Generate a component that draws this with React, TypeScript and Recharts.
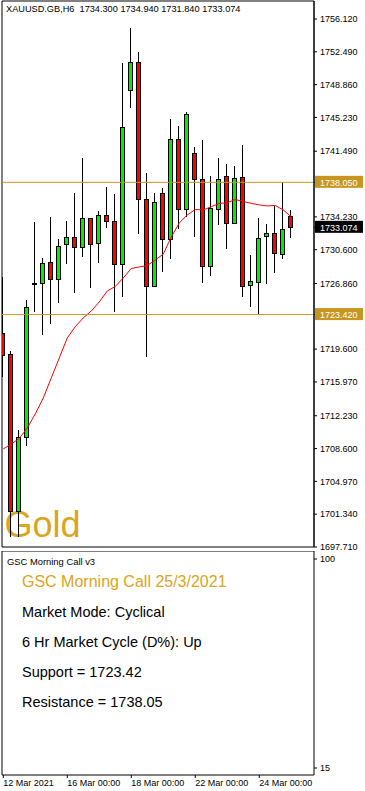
import {
  ComposedChart,
  Bar,
  Line,
  XAxis,
  YAxis,
  ReferenceLine,
  ReferenceArea,
} from 'recharts';

// XAUUSD H6 candles, 12 Mar 2021 -> 25 Mar 2021
const opens = [
  1721.39, 1719.06, 1701.7, 1709.88, 1726.88, 1726.88, 1729.21, 1727.33, 1731.2, 1731.97,
  1730.87, 1734.07, 1731.31, 1734.41, 1733.74, 1728.99, 1748.23, 1751.33, 1736.18, 1726.62,
  1736.84, 1731.75, 1742.81, 1735.07, 1741.26, 1738.39, 1728.76, 1735.07, 1738.72, 1733.52,
  1738.61, 1726.66, 1727.06, 1732.12, 1732.42, 1730.09, 1734.3,
];
const highs = [
  1727.58, 1719.39, 1710.66, 1725.04, 1733.7, 1729.65, 1734.25, 1731.78, 1733.77, 1736.87,
  1740.74, 1734.1, 1734.88, 1737.57, 1736.76, 1751.29, 1755.09, 1752.44, 1739.05, 1736.84,
  1737.43, 1745.06, 1744.25, 1745.8, 1741.96, 1742.7, 1738.72, 1740.71, 1740.05, 1739.83,
  1742.15, 1730.01, 1734.07, 1733.41, 1735.4, 1738.06, 1734.94,
];
const lows = [
  1716.52, 1698.82, 1698.82, 1708.89, 1723.74, 1721.16, 1722.35, 1724.67, 1729.05, 1725.78,
  1729.83, 1726.33, 1729.16, 1733.03, 1723.74, 1725.4, 1746.31, 1732.3, 1718.76, 1726.51,
  1728.17, 1729.6, 1732.86, 1734.25, 1732.04, 1726.88, 1727.66, 1733.3, 1730.64, 1733.41,
  1725.33, 1724.29, 1723.49, 1726.77, 1727.99, 1729.54, 1731.84,
];
const closes = [
  1718.95, 1701.7, 1709.88, 1724.26, 1726.85, 1729.1, 1727.33, 1730.98, 1731.97, 1730.87,
  1734.07, 1731.2, 1734.41, 1733.74, 1728.99, 1744.14, 1751.33, 1736.18, 1726.62, 1735.84,
  1731.75, 1742.81, 1735.07, 1745.58, 1738.39, 1728.76, 1735.18, 1738.39, 1733.52, 1738.5,
  1726.55, 1727.1, 1731.86, 1732.42, 1730.2, 1732.86, 1733.074,
];
const movingAvg = [
  1708.55, 1709.11, 1709.72, 1710.88, 1712.43, 1714.19, 1716.41, 1718.62, 1720.83, 1722.08,
  1723.05, 1723.82, 1724.82, 1726.03, 1726.53, 1727.47, 1728.52, 1728.69, 1728.85, 1729.46,
  1730.12, 1732.0, 1733.55, 1734.44, 1735.05, 1734.99, 1735.36, 1735.71, 1735.8, 1736.15,
  1735.93, 1735.73, 1735.55, 1735.44, 1735.49, 1734.99, 1734.25,
];

const priceTicks = [
  1756.12, 1752.49, 1748.86, 1745.23, 1741.49, 1734.23, 1730.6, 1726.86, 1719.6, 1715.97,
  1712.23, 1708.6, 1704.97, 1701.34, 1697.71,
];
const support = 1723.42;
const resistance = 1738.05;
const lastPrice = 1733.074;

const dateTicks = [0, 8, 16, 24, 32];
const dateLabels = ['12 Mar 2021', '16 Mar 00:00', '18 Mar 00:00', '22 Mar 00:00', '24 Mar 00:00'];

const oscTicks = [100, 15];

const header = 'XAUUSD.GB,H6  1734.300 1734.940 1731.840 1733.074';
const panelName = 'GSC Morning Call v3';
const panelTitle = 'GSC Morning Call 25/3/2021';
const panelLines = [
  'Market Mode: Cyclical',
  '6 Hr Market Cycle (D%): Up',
  'Support = 1723.42',
  'Resistance = 1738.05',
];

const FONT = '"Liberation Sans", Arial, sans-serif';
const GOLD_LINE = '#c8961e';
const GOLD_TEXT = '#daa520';
const BULL = '#00ee00';
const BEAR = '#ff0000';
const X_DOMAIN: [number, number] = [-0.16, 38.84];
const Y_DOMAIN: [number, number] = [1697.71, 1758.11];

const data = opens.map((o, i) => ({
  i,
  open: o,
  high: highs[i],
  low: lows[i],
  close: closes[i],
  range: [lows[i], highs[i]],
  ma: movingAvg[i],
}));

const boxes: Record<string, string> = {
  [String(resistance)]: GOLD_LINE,
  [String(support)]: GOLD_LINE,
  [String(lastPrice)]: '#000',
};

function Candle(props: any) {
  const { x, y, width, height, payload } = props;
  if (!payload || height == null) return null;
  const top = Math.min(y, y + height);
  const h = Math.abs(height);
  const ratio = h / (payload.high - payload.low);
  const p = Math.floor(x + width / 2);
  const oy = top + (payload.high - payload.open) * ratio;
  const cy = top + (payload.high - payload.close) * ratio;
  const bTop = Math.round(Math.min(oy, cy)) + 0.5;
  const bBot = Math.round(Math.max(oy, cy)) + 0.5;
  const up = payload.close >= payload.open;
  return (
    <g>
      <line x1={p + 0.5} x2={p + 0.5} y1={Math.round(top)} y2={Math.round(top + h)} stroke="#000" strokeWidth={1} />
      {bBot - bTop < 1 ? (
        <line x1={p - 2} x2={p + 3} y1={bTop} y2={bTop} stroke="#000" strokeWidth={1} />
      ) : (
        <rect x={p - 1.5} y={bTop} width={4} height={bBot - bTop} fill={up ? BULL : BEAR} stroke="#000" strokeWidth={1} />
      )}
    </g>
  );
}

function PriceTick(props: any) {
  const { x, y, payload } = props;
  const v = payload.value as number;
  const bg = boxes[String(v)];
  const label = v.toFixed(3);
  if (bg) {
    return (
      <g>
        <rect x={x - 5} y={y - 6.5} width={48} height={12} fill={bg} />
        <text x={x} y={y} dy="0.355em" fill="#fff" fontSize={9} fontFamily={FONT}>
          {label}
        </text>
      </g>
    );
  }
  return (
    <text x={x} y={y} dy="0.355em" fill="#000" fontSize={9} fontFamily={FONT}>
      {label}
    </text>
  );
}

function DateTick(props: any) {
  const { x, y, payload } = props;
  const idx = dateTicks.indexOf(payload.value);
  return (
    <text x={x} y={y} dy="0.71em" textAnchor="start" fill="#000" fontSize={9} fontFamily={FONT}>
      {dateLabels[idx]}
    </text>
  );
}

export default function App() {
  return (
    <div style={{ position: 'relative', width: 365, height: 791, overflow: 'hidden', background: '#fff', fontFamily: FONT }}>
      <style>{'body{margin:0}'}</style>

      <div style={{ position: 'absolute', left: 4.5, top: 506.8, fontSize: 36, lineHeight: '36px', color: GOLD_TEXT }}>
        Gold
      </div>

      <div style={{ position: 'absolute', left: 0, top: 0 }}>
        <ComposedChart width={365} height={553} data={data} margin={{ top: 1, right: 0, bottom: 6, left: 2 }}>
          <XAxis type="number" dataKey="i" domain={X_DOMAIN} allowDataOverflow hide />
          <YAxis
            orientation="right"
            width={51}
            type="number"
            domain={Y_DOMAIN}
            allowDataOverflow
            ticks={[...priceTicks, resistance, support, lastPrice]}
            interval={0}
            tickSize={3}
            tickMargin={3}
            tickLine={{ stroke: '#000' }}
            axisLine={{ stroke: '#000' }}
            tick={<PriceTick />}
          />
          <ReferenceArea
            x1={X_DOMAIN[0]}
            x2={X_DOMAIN[1]}
            y1={Y_DOMAIN[0]}
            y2={Y_DOMAIN[1]}
            fill="none"
            stroke="#000"
            strokeWidth={1}
          />
          <Bar dataKey="range" barSize={5} shape={<Candle />} isAnimationActive={false} />
          <Line
            type="linear"
            dataKey="ma"
            stroke="#ff0000"
            strokeWidth={1}
            dot={false}
            activeDot={false}
            isAnimationActive={false}
          />
          <ReferenceLine y={resistance} stroke={GOLD_LINE} strokeWidth={1} />
          <ReferenceLine y={support} stroke={GOLD_LINE} strokeWidth={1} />
        </ComposedChart>
      </div>

      <div style={{ position: 'absolute', left: 6, top: 4.8, fontSize: 9.2, lineHeight: '9.2px', whiteSpace: 'pre', color: '#000' }}>
        {header}
      </div>

      <div style={{ position: 'absolute', left: 0, top: 551 }}>
        <ComposedChart width={365} height={240} data={data} margin={{ top: 0, right: 0, bottom: 0, left: 2 }}>
          <XAxis
            type="number"
            dataKey="i"
            domain={X_DOMAIN}
            allowDataOverflow
            ticks={dateTicks}
            interval={0}
            height={16}
            tickSize={3}
            tickMargin={2}
            axisLine={false}
            tickLine={{ stroke: '#000' }}
            tick={<DateTick />}
          />
          <YAxis
            orientation="right"
            width={51}
            type="number"
            domain={[12.15, 103.25]}
            allowDataOverflow
            ticks={oscTicks}
            interval={0}
            tickSize={3}
            tickMargin={3}
            axisLine={false}
            tickLine={{ stroke: '#000' }}
            tick={{ fontSize: 9, fill: '#000', fontFamily: FONT, textAnchor: 'start' }}
          />
          <ReferenceArea
            x1={X_DOMAIN[0]}
            x2={X_DOMAIN[1]}
            y1={12.15}
            y2={103.25}
            fill="none"
            stroke="#000"
            strokeWidth={1}
          />
        </ComposedChart>
      </div>

      <div style={{ position: 'absolute', left: 7, top: 557.1, fontSize: 9.4, lineHeight: '9.4px', color: '#000' }}>
        {panelName}
      </div>
      <div style={{ position: 'absolute', left: 22, top: 574.2, fontSize: 16, lineHeight: '16px', color: GOLD_TEXT }}>
        {panelTitle}
      </div>
      {panelLines.map((t, n) => (
        <div
          key={t}
          style={{ position: 'absolute', left: 22, top: 604.9 + n * 30, fontSize: 14.5, lineHeight: '14.5px', color: '#000' }}
        >
          {t}
        </div>
      ))}
    </div>
  );
}
